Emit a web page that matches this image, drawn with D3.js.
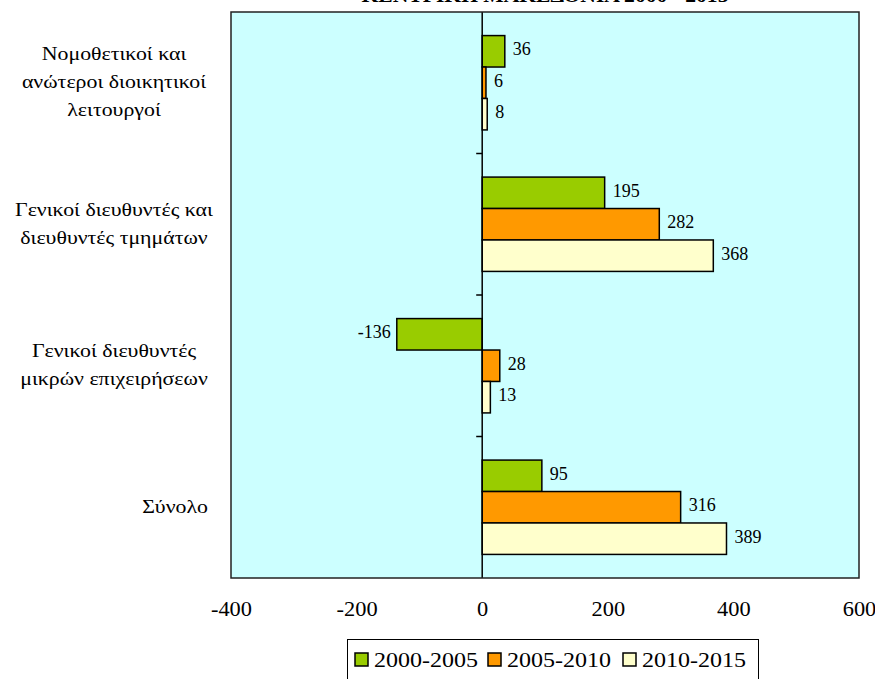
<!DOCTYPE html>
<html>
<head>
<meta charset="utf-8">
<script src="https://cdn.jsdelivr.net/npm/d3@7/dist/d3.min.js"></script>
<style>
  html, body { margin: 0; padding: 0; background: #ffffff; }
  svg { display: block; }
  text { font-family: "Liberation Serif", "Times New Roman", serif; fill: #000; }
</style>
</head>
<body>
<svg id="chart" width="875" height="679"></svg>
<script>
// ---- data ----
const categories = [
  ["Νομοθετικοί και", "ανώτεροι διοικητικοί", "λειτουργοί"],
  ["Γενικοί διευθυντές και", "διευθυντές τμημάτων"],
  ["Γενικοί διευθυντές", "μικρών επιχειρήσεων"],
  ["Σύνολο"]
];
const seriesNames = ["2000-2005", "2005-2010", "2010-2015"];
const values2000_2005 = [36, 195, -136, 95];
const values2005_2010 = [6, 282, 28, 316];
const values2010_2015 = [8, 368, 13, 389];
const seriesValues = [values2000_2005, values2005_2010, values2010_2015];
const seriesColors = ["#99CC00", "#FF9900", "#FFFFCC"];
const xTicks = [-400, -200, 0, 200, 400, 600];
const titleText = "ΚΕΝΤΡΙΚΗ ΜΑΚΕΔΟΝΙΑ 2000 - 2015";

// ---- layout ----
const plot = { left: 231, right: 859, top: 12, bottom: 578 };
const stretch = 1.2; // reference text is horizontally widened

const svg = d3.select("#chart");

const x = d3.scaleLinear().domain([-400, 600]).range([plot.left, plot.right]);
const catIdx = categories.map((d, i) => i);
const y = d3.scaleBand().domain(catIdx).range([plot.top, plot.bottom]).paddingInner(0).paddingOuter(0);
const ySub = d3.scaleBand().domain(d3.range(seriesNames.length)).range([0, y.bandwidth()]).paddingInner(0).paddingOuter(0.75);

// title (mostly clipped at top like the reference)
svg.append("text")
  .attr("transform", `translate(${(plot.left + plot.right) / 2},2) scale(${stretch},1)`)
  .attr("text-anchor", "middle")
  .style("font-weight", "bold")
  .style("font-size", "18px")
  .text(titleText);

// plot background
svg.append("rect")
  .attr("x", plot.left).attr("y", plot.top)
  .attr("width", plot.right - plot.left).attr("height", plot.bottom - plot.top)
  .attr("fill", "#CCFFFF");

// bars
const barData = [];
seriesValues.forEach((vals, s) => vals.forEach((v, c) => barData.push({ s, c, v })));

svg.append("g").selectAll("rect").data(barData).join("rect")
  .attr("x", d => Math.min(x(0), x(d.v)))
  .attr("y", d => y(d.c) + ySub(d.s))
  .attr("width", d => Math.abs(x(d.v) - x(0)))
  .attr("height", ySub.bandwidth())
  .attr("fill", d => seriesColors[d.s])
  .attr("stroke", "#000")
  .attr("stroke-width", 1.5);

// value labels
svg.append("g").selectAll("text").data(barData).join("text")
  .attr("x", d => d.v >= 0 ? x(d.v) + 8 : x(d.v) - 6)
  .attr("y", d => y(d.c) + ySub(d.s) + ySub.bandwidth() / 2 - 2)
  .attr("text-anchor", d => d.v >= 0 ? "start" : "end")
  .attr("dominant-baseline", "central")
  .style("font-size", "18px")
  .text(d => String(d.v));

// vertical zero axis with ticks at category boundaries
svg.append("line")
  .attr("x1", x(0)).attr("x2", x(0))
  .attr("y1", plot.top).attr("y2", plot.bottom)
  .attr("stroke", "#000").attr("stroke-width", 1.5);
svg.append("g").selectAll("line").data(catIdx.slice(1)).join("line")
  .attr("x1", x(0) - 6).attr("x2", x(0))
  .attr("y1", d => y(d)).attr("y2", d => y(d))
  .attr("stroke", "#000").attr("stroke-width", 1.5);

// plot border
svg.append("rect")
  .attr("x", plot.left).attr("y", plot.top)
  .attr("width", plot.right - plot.left).attr("height", plot.bottom - plot.top)
  .attr("fill", "none").attr("stroke", "#222").attr("stroke-width", 1.5);

// x axis labels via d3 axis
const xAxis = d3.axisBottom(x).tickValues(xTicks).tickSize(0).tickPadding(24).tickFormat(d => String(d));
const gx = svg.append("g").attr("transform", `translate(0,${plot.bottom})`).call(xAxis);
gx.select(".domain").remove();
gx.selectAll("text")
  .style("font-size", "20px")
  .style("font-family", "'Liberation Serif', 'Times New Roman', serif")
  .attr("transform", "scale(1.12,1)");

// category labels
const lineH = 28;
const boxRight = 220, boxWidth = 212;
const gCat = svg.append("g");
categories.forEach((lines, c) => {
  const cy = y(c) + y.bandwidth() / 2 - 1;
  const multi = lines.length > 1;
  const ax = multi ? boxRight - boxWidth / 2 : boxRight - 12;
  const t = gCat.append("text")
    .attr("transform", `translate(${ax},0) scale(1.15,1)`)
    .attr("text-anchor", multi ? "middle" : "end")
    .style("font-size", "19px");
  lines.forEach((ln, i) => {
    t.append("tspan")
      .attr("x", 0)
      .attr("y", cy + (i - (lines.length - 1) / 2) * lineH)
      .attr("dominant-baseline", "central")
      .text(ln);
  });
});

// legend
const legend = svg.append("g");
legend.append("rect")
  .attr("x", 347.5).attr("y", 639.5).attr("width", 411).attr("height", 60)
  .attr("fill", "#fff").attr("stroke", "#000").attr("stroke-width", 1);
const itemX = [355, 488, 623];
seriesNames.forEach((name, i) => {
  legend.append("rect")
    .attr("x", itemX[i]).attr("y", 653).attr("width", 13).attr("height", 13)
    .attr("fill", seriesColors[i]).attr("stroke", "#000").attr("stroke-width", 1.5);
  legend.append("text")
    .attr("transform", `translate(${itemX[i] + 19},660) scale(${stretch},1)`)
    .attr("dominant-baseline", "central")
    .style("font-size", "20px")
    .text(name);
});
</script>
</body>
</html>
